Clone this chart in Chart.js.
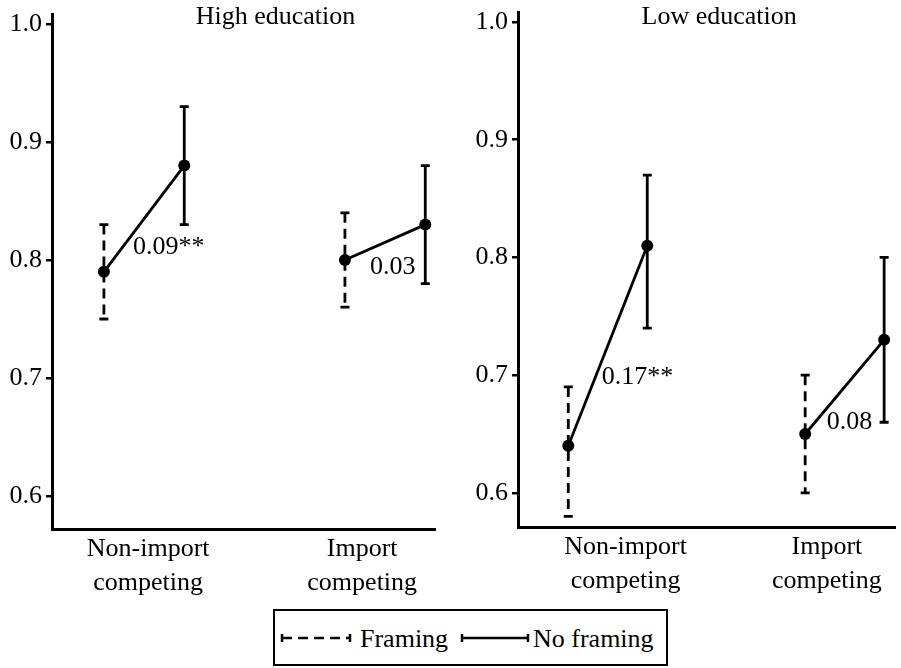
<!DOCTYPE html>
<html>
<head>
<meta charset="utf-8">
<script src="https://cdn.jsdelivr.net/npm/chart.js@4.4.1/dist/chart.umd.min.js"></script>
<style>
  html, body { margin: 0; padding: 0; background: #fff; }
  #page { position: relative; width: 901px; height: 668px; overflow: hidden; }
  canvas { position: absolute; top: 0; }
  #legend { position: absolute; left: 273px; top: 609px; }
</style>
</head>
<body>
<div id="page">
  <canvas id="highChart" width="450" height="668" style="left:0px"></canvas>
  <canvas id="lowChart" width="451" height="668" style="left:450px"></canvas>
  <svg id="legend" width="395" height="57" xmlns="http://www.w3.org/2000/svg">
    <rect x="1" y="1" width="393" height="55" fill="#fff" stroke="#000" stroke-width="2"/>
    <g stroke="#000" stroke-width="2.5">
      <line x1="9" y1="29" x2="77" y2="29" stroke-dasharray="10 6"/>
      <line x1="9" y1="25" x2="9" y2="33"/>
      <line x1="77" y1="25" x2="77" y2="33"/>
      <line x1="189" y1="29" x2="255" y2="29"/>
      <line x1="189" y1="25" x2="189" y2="33"/>
      <line x1="255" y1="25" x2="255" y2="33"/>
    </g>
    <g font-family="'Liberation Serif', 'Times New Roman', serif" font-size="26" fill="#000">
      <text x="87" y="29" dominant-baseline="central">Framing</text>
      <text x="260" y="29" dominant-baseline="central">No framing</text>
    </g>
  </svg>
</div>
<script>
// Data
const categories = [['Non-import', 'competing'], ['Import', 'competing']];
const panelTitles = ['High education', 'Low education'];
const yTicks = [0.6, 0.7, 0.8, 0.9, 1.0];

// High education
const highFraming = [0.79, 0.80];
const highFramingLo = [0.75, 0.76];
const highFramingHi = [0.83, 0.84];
const highNoFraming = [0.88, 0.83];
const highNoFramingLo = [0.83, 0.78];
const highNoFramingHi = [0.93, 0.88];
const highDiff = ['0.09**', '0.03'];

// Low education
const lowFraming = [0.64, 0.65];
const lowFramingLo = [0.58, 0.60];
const lowFramingHi = [0.69, 0.70];
const lowNoFraming = [0.81, 0.73];
const lowNoFramingLo = [0.74, 0.66];
const lowNoFramingHi = [0.87, 0.80];
const lowDiff = ['0.17**', '0.08'];

const FONT = "'Liberation Serif', 'Times New Roman', serif";
const HALF = 1 / 6; // framing / no framing offset around each category
const LW = 2.8;

const errorBars = {
    id: 'errorBars',
    beforeDatasetsDraw(chart, args, opts) {
        const { ctx, scales: { x, y } } = chart;
        const p = opts.panel;
        const bar = (xv, lo, hi, dash) => {
            const px = x.getPixelForValue(xv);
            const yLo = y.getPixelForValue(lo), yHi = y.getPixelForValue(hi);
            ctx.setLineDash(dash);
            ctx.beginPath(); ctx.moveTo(px, yHi); ctx.lineTo(px, yLo); ctx.stroke();
            ctx.setLineDash([]);
            ctx.beginPath();
            ctx.moveTo(px - 4.5, yHi); ctx.lineTo(px + 4.5, yHi);
            ctx.moveTo(px - 4.5, yLo); ctx.lineTo(px + 4.5, yLo);
            ctx.stroke();
        };
        ctx.save();
        ctx.strokeStyle = '#000';
        ctx.lineWidth = LW;
        p.framing.forEach((v, i) => {
            bar(i - HALF, p.framingLo[i], p.framingHi[i], [10, 6]);
            bar(i + HALF, p.noLo[i], p.noHi[i], []);
        });
        ctx.restore();
    },
    afterDatasetsDraw(chart, args, opts) {
        const { ctx, scales: { x, y } } = chart;
        const p = opts.panel, lay = opts.layout;
        ctx.save();
        ctx.fillStyle = '#000';
        ctx.font = '26px ' + FONT;
        ctx.textBaseline = 'middle';
        ctx.textAlign = 'center';
        ctx.fillText(p.title, x.getPixelForValue(lay.titleX), lay.titleY);
        ctx.textAlign = 'left';
        p.diffs.forEach((txt, i) => {
            const mx = x.getPixelForValue(i);
            const my = y.getPixelForValue((p.framing[i] + p.noFraming[i]) / 2);
            ctx.fillText(txt, mx + lay.notes[i].dx, my + lay.notes[i].dy);
        });
        ctx.restore();
    }
};

function makePanel(canvasId, panel, layout) {
    const datasets = categories.map((c, i) => ({
        data: [{ x: i - HALF, y: panel.framing[i] }, { x: i + HALF, y: panel.noFraming[i] }],
        borderColor: '#000',
        borderWidth: LW,
        pointRadius: 6,
        pointBackgroundColor: '#000',
        pointBorderWidth: 0,
        fill: false,
        tension: 0
    }));

    return new Chart(document.getElementById(canvasId), {
        type: 'line',
        data: { datasets },
        plugins: [errorBars],
        options: {
            responsive: false,
            animation: false,
            events: [],
            layout: { padding: { left: 0, right: layout.padRight, top: layout.padTop, bottom: 0 } },
            plugins: {
                legend: { display: false },
                tooltip: { enabled: false },
                errorBars: { panel, layout }
            },
            scales: {
                x: {
                    type: 'linear',
                    min: layout.xMin,
                    max: layout.xMax,
                    grid: { display: false },
                    border: { display: true, color: '#000', width: 3 },
                    afterBuildTicks: s => { s.ticks = layout.labelPos.map(v => ({ value: v })); },
                    afterFit: s => { s.height = layout.xHeight; s.paddingLeft = 0; s.paddingRight = 0; },
                    ticks: {
                        autoSkip: false,
                        maxRotation: 0,
                        padding: -5,
                        color: '#000',
                        font: { family: FONT, size: 26, lineHeight: 1.3 },
                        callback: (v, i) => categories[i]
                    }
                },
                y: {
                    min: layout.yMin,
                    max: layout.yMax,
                    grid: { drawOnChartArea: false, drawTicks: true, tickLength: 6, color: '#000', lineWidth: 2.5 },
                    border: { display: true, color: '#000', width: 3 },
                    afterBuildTicks: s => { s.ticks = yTicks.map(v => ({ value: v })); },
                    afterFit: s => { s.width = layout.yWidth; s.paddingTop = 0; s.paddingBottom = 0; },
                    ticks: {
                        padding: 4,
                        color: '#000',
                        font: { family: FONT, size: 26 },
                        callback: v => v.toFixed(1)
                    }
                }
            }
        }
    });
}

makePanel('highChart', {
    title: panelTitles[0],
    framing: highFraming, framingLo: highFramingLo, framingHi: highFramingHi,
    noFraming: highNoFraming, noLo: highNoFramingLo, noHi: highNoFramingHi,
    diffs: highDiff
}, {
    yWidth: 52, padRight: 15, padTop: 14, xHeight: 139,
    yMin: 0.572, yMax: 1.0085, xMin: -0.382, xMax: 1.207,
    labelPos: [0.017, 0.905], titleX: 0.545, titleY: 17,
    notes: [{ dx: -11, dy: 28 }, { dx: -15, dy: 25 }]
});

makePanel('lowChart', {
    title: panelTitles[1],
    framing: lowFraming, framingLo: lowFramingLo, framingHi: lowFramingHi,
    noFraming: lowNoFraming, noLo: lowNoFramingLo, noHi: lowNoFramingHi,
    diffs: lowDiff
}, {
    yWidth: 68, padRight: 1, padTop: 12, xHeight: 141,
    yMin: 0.571, yMax: 1.0085, xMin: -0.379, xMax: 1.2125,
    labelPos: [0.075, 0.925], titleX: 0.47, titleY: 17,
    notes: [{ dx: -6, dy: 31 }, { dx: -18, dy: 35 }]
});
</script>
</body>
</html>
